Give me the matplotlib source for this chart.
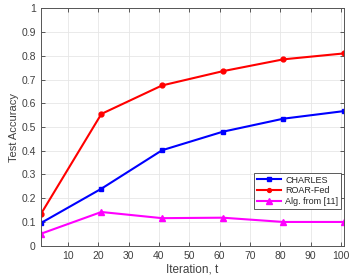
import numpy as np
import matplotlib.pyplot as plt

iters = [1, 21, 41, 61, 81, 101]
charles = [0.095, 0.24, 0.402, 0.48, 0.535, 0.567]
roar_fed = [0.132, 0.555, 0.675, 0.735, 0.785, 0.81]
alg11 = [0.05, 0.142, 0.116, 0.118, 0.10, 0.10]

plt.rcParams['font.family'] = ['Liberation Sans', 'DejaVu Sans']

f = plt.figure(figsize=(3.58, 2.77), dpi=100)
ax = f.add_axes([40.7/358, 1 - 245.7/277, (344 - 40.7)/358, (245.7 - 8.3)/277])

ax.plot(iters, charles, color='blue', lw=1.5, marker='s', ms=3, label='CHARLES')
ax.plot(iters, roar_fed, color='red', lw=1.5, marker='o', ms=3.5, label='ROAR-Fed')
ax.plot(iters, alg11, color='magenta', lw=1.5, marker='^', ms=5, label='Alg. from [11]')

ax.set_xlim(1, 101)
ax.set_ylim(0, 1)
ax.set_xticks(np.arange(10, 101, 10))
ax.set_yticks(np.arange(0, 1.01, 0.1))
ax.set_yticklabels(['0'] + ['%.1f' % v for v in np.arange(0.1, 0.95, 0.1)] + ['1'])
ax.grid(True, color='#e6e6e6', lw=0.6)
ax.set_axisbelow(True)
ax.tick_params(labelsize=7.5, colors='#404040', direction='in', length=3, width=0.6,
               top=True, right=True)
for s in ax.spines.values():
    s.set_color('#555555')
    s.set_linewidth(0.7)
ax.set_xlabel('Iteration, t', fontsize=8.5, color='#404040', labelpad=2)
ax.set_ylabel('Test Accuracy', fontsize=8, color='#404040', labelpad=2)

leg = ax.legend(loc='lower right', bbox_to_anchor=(0.99, 0.155), fontsize=6.5,
                fancybox=False, framealpha=1, edgecolor='#404040', borderpad=0.3,
                labelspacing=0.2, handlelength=2.6, handletextpad=0.5, borderaxespad=0,
                markerscale=0.8)
leg.get_frame().set_linewidth(0.6)
for t in leg.get_texts():
    t.set_color('#262626')

plt.savefig('out.png', dpi=100)
